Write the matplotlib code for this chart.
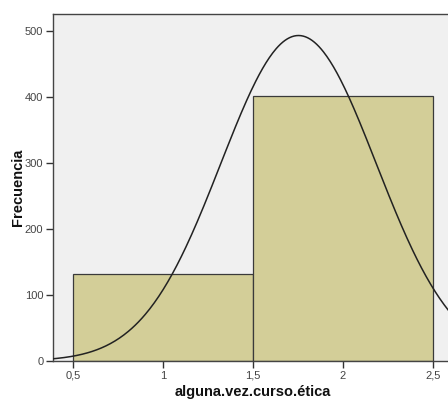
import numpy as np
import matplotlib
matplotlib.use("Agg")
import matplotlib.pyplot as plt

# Histogram data: bin edges and counts
bin_edges = [0.5, 1.5, 2.5]
counts = [132, 402]
bin_centers = [1.0, 2.0]
xticks = [0.5, 1.0, 1.5, 2.0, 2.5]
xtick_labels = ["0,5", "1", "1,5", "2", "2,5"]
yticks = [0, 100, 200, 300, 400, 500]

plt.rcParams["font.family"] = ["Liberation Sans", "DejaVu Sans"]

fig = plt.figure(figsize=(4.48, 4.01), dpi=100)
ax = fig.add_axes([53 / 448, 40 / 401, 400 / 448, 347 / 401])
ax.set_facecolor("#F0F0F0")

widths = np.diff(bin_edges)
ax.bar(bin_edges[:-1], counts, width=widths, align="edge",
       color="#D3CE98", edgecolor="#3a3a3a", linewidth=0.9, zorder=2)

# Normal curve fitted to the binned data
n = np.sum(counts)
mean = np.sum(np.array(bin_centers) * counts) / n
sd = np.sqrt(np.sum(counts * (np.array(bin_centers) - mean) ** 2) / (n - 1))
xs = np.linspace(0.3, 2.8, 400)
ys = n * widths[0] * np.exp(-0.5 * ((xs - mean) / sd) ** 2) / (sd * np.sqrt(2 * np.pi))
ax.plot(xs, ys, color="#222222", linewidth=1.1, zorder=3)

ax.set_xlim(0.389, 2.611)
ax.set_ylim(0, 526)
ax.set_xticks(xticks)
ax.set_xticklabels(xtick_labels)
ax.set_yticks(yticks)
ax.tick_params(axis="both", direction="out", length=5, width=1.0,
               color="#333333", labelsize=8, labelcolor="#444444", pad=2)
for s in ax.spines.values():
    s.set_color("#444444")
    s.set_linewidth(1.0)

ax.set_xlabel("alguna.vez.curso.ética", fontsize=10.5, fontweight="bold",
              color="#111111", labelpad=3)
ax.set_ylabel("Frecuencia", fontsize=10.5, fontweight="bold",
              color="#111111", labelpad=0)

fig.savefig("out.png", dpi=100, facecolor="white")
